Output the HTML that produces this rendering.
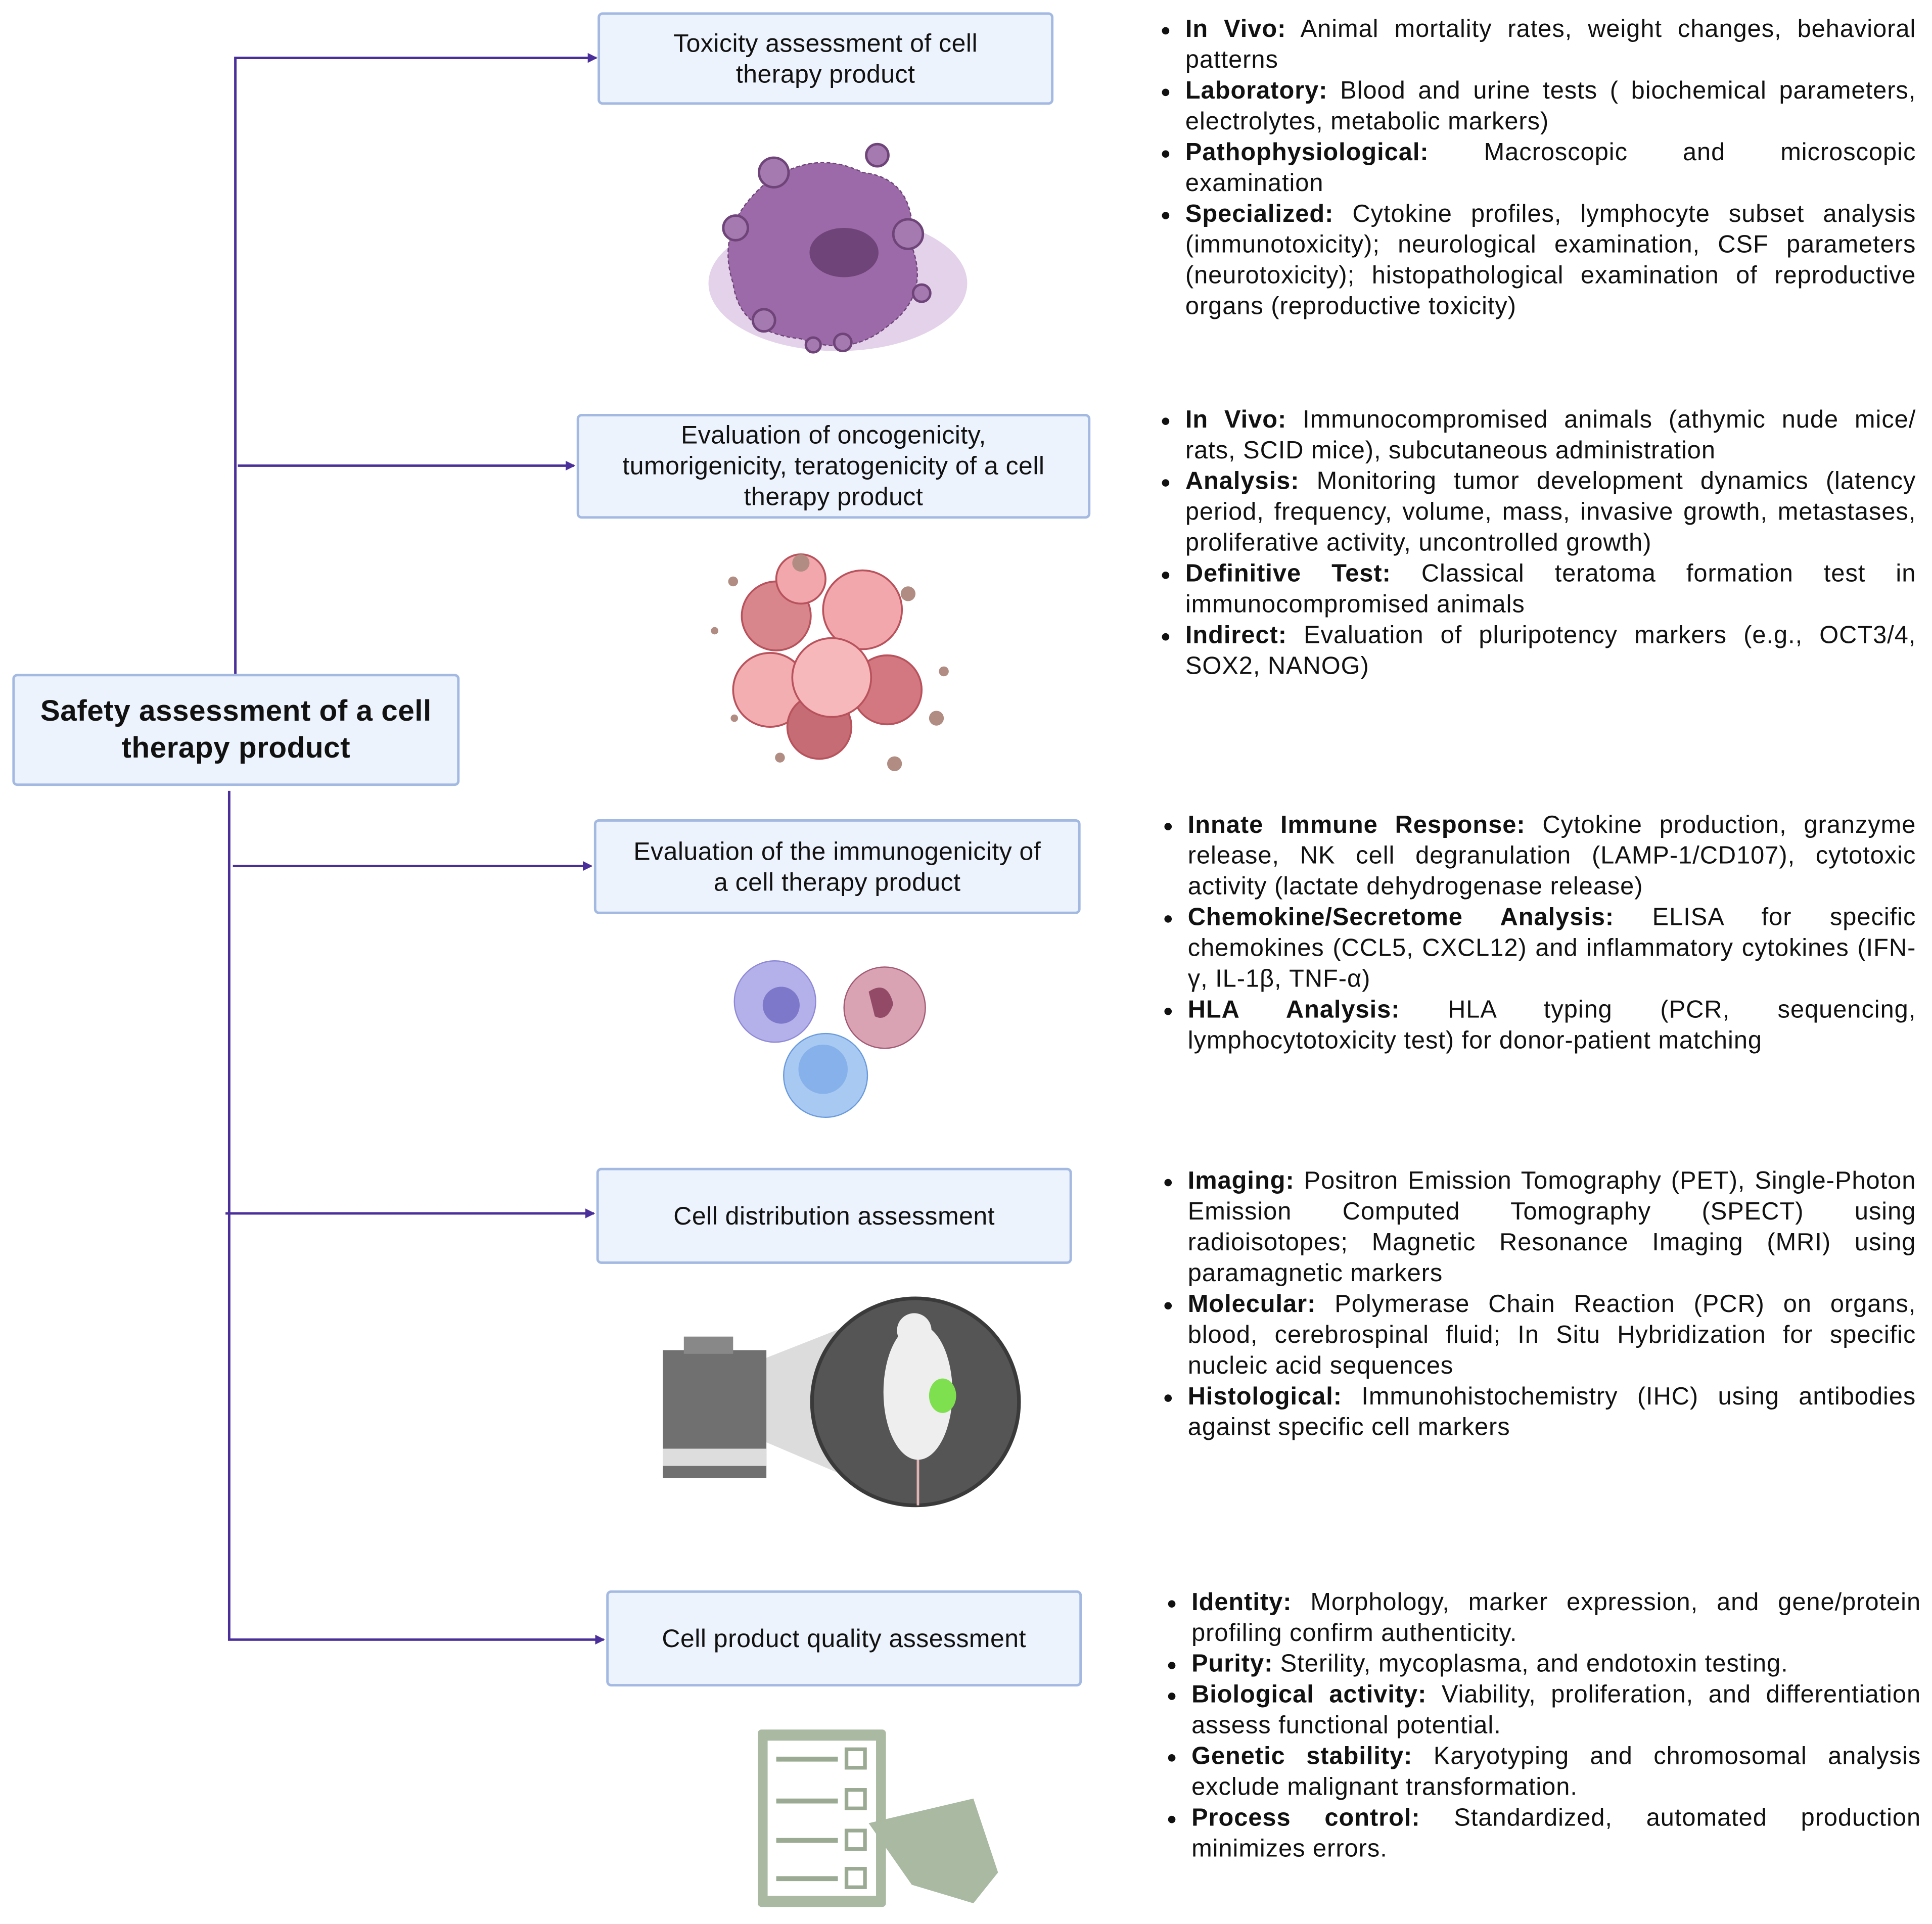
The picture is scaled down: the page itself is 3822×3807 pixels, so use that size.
<!DOCTYPE html>
<html><head><meta charset="utf-8"><style>
html,body{margin:0;padding:0;background:#fff}
body{width:3822px;height:3806px;overflow:hidden;position:relative}
#s{position:absolute;left:0;top:0;width:1568px;height:1562px;transform:scale(2.4375);transform-origin:0 0;font-family:"Liberation Sans",sans-serif;color:#111}
.box{position:absolute;background:#edf3fc;border:2px solid #a3b9e2;border-radius:4px;display:flex;align-items:center;justify-content:center;text-align:center;font-size:20.5px;line-height:25px;box-sizing:border-box;letter-spacing:0.2px}
.t{position:absolute;font-size:20px;letter-spacing:0.4px;line-height:25px;text-align:justify;margin:0;padding:0 0 0 22px;list-style:none}
.t li{position:relative}
.t li::before{content:"";position:absolute;left:-19px;top:10px;width:6px;height:6px;border-radius:50%;background:#111}
svg{position:absolute;left:0;top:0}
</style></head><body><div id="s">
<svg width="1568" height="1562" viewBox="0 0 1568 1562">
<defs><marker id="a" markerWidth="8" markerHeight="8" refX="7" refY="4" orient="auto" markerUnits="userSpaceOnUse"><path d="M0,0 L8,4 L0,8z" fill="#4a2f9a"/></marker></defs>
<g stroke="#4a2f9a" stroke-width="2" fill="none">
<path d="M191,547 V47 H484" marker-end="url(#a)"/>
<path d="M193,378 H466" marker-end="url(#a)"/>
<path d="M186,642 V1331 H490" marker-end="url(#a)"/>
<path d="M189,703 H480" marker-end="url(#a)"/>
<path d="M183,985 H482" marker-end="url(#a)"/>
</g>
<ellipse cx="680" cy="230" rx="105" ry="55" fill="#e3d2ea"/>
<path d="M620,150 Q660,120 700,140 Q745,145 740,200 Q755,240 720,265 Q690,290 650,275 Q600,270 595,230 Q580,185 620,150z" fill="#9c6aa8" stroke="#6e4479" stroke-dasharray="3 2"/>
<ellipse cx="685" cy="205" rx="28" ry="20" fill="#6e4479"/>
<g fill="#a47ab0" stroke="#6e4479" stroke-width="2"><circle cx="628" cy="140" r="12"/><circle cx="712" cy="126" r="9"/><circle cx="737" cy="190" r="12"/><circle cx="597" cy="185" r="10"/><circle cx="620" cy="260" r="9"/><circle cx="748" cy="238" r="7"/><circle cx="684" cy="278" r="7"/><circle cx="660" cy="280" r="6"/></g>
<g stroke="#b8525c" stroke-width="1.5"><circle cx="630" cy="500" r="28" fill="#d8868c"/><circle cx="700" cy="495" r="32" fill="#f1a7ab"/><circle cx="720" cy="560" r="28" fill="#d37880"/><circle cx="625" cy="560" r="30" fill="#f3aeb1"/><circle cx="665" cy="590" r="26" fill="#c66c74"/><circle cx="675" cy="550" r="32" fill="#f6b8ba"/><circle cx="650" cy="470" r="20" fill="#f1a7ab"/></g>
<g fill="#b08c82"><circle cx="650" cy="457" r="7"/><circle cx="737" cy="482" r="6"/><circle cx="760" cy="583" r="6"/><circle cx="726" cy="620" r="6"/><circle cx="595" cy="472" r="4"/><circle cx="580" cy="512" r="3"/><circle cx="766" cy="545" r="4"/><circle cx="633" cy="615" r="4"/><circle cx="596" cy="583" r="3"/></g>
<circle cx="629" cy="813" r="33" fill="#b3b0ea" stroke="#8f8ad6"/><circle cx="634" cy="816" r="15" fill="#7d78c9"/>
<circle cx="718" cy="818" r="33" fill="#d9a3b4" stroke="#a25873"/><path d="M705,805 q15,-10 20,10 q-5,15 -15,10z" fill="#934a66"/>
<circle cx="670" cy="873" r="34" fill="#a8c9f2" stroke="#6b9bdc"/><circle cx="668" cy="868" r="20" fill="#86b1ea"/>
<path d="M620,1103 L742,1055 L742,1222 L620,1170z" fill="#dcdcdc"/>
<rect x="538" y="1096" width="84" height="104" fill="#707070"/><rect x="555" y="1085" width="40" height="14" fill="#888"/><rect x="538" y="1176" width="84" height="14" fill="#ddd"/>
<circle cx="743" cy="1138" r="84" fill="#555" stroke="#3a3a3a" stroke-width="3"/>
<ellipse cx="745" cy="1130" rx="28" ry="55" fill="#eee"/><circle cx="742" cy="1080" r="14" fill="#eee"/><ellipse cx="765" cy="1133" rx="11" ry="14" fill="#7ee04f"/>
<line x1="745" y1="1185" x2="745" y2="1222" stroke="#e0b4b4" stroke-width="2"/>
<rect x="615" y="1404" width="104" height="144" rx="3" fill="#a9b9a2"/><rect x="623" y="1413" width="88" height="126" fill="#fff"/>
<g stroke="#9aaa93" stroke-width="4"><line x1="630" y1="1428" x2="680" y2="1428"/><line x1="630" y1="1462" x2="680" y2="1462"/><line x1="630" y1="1494" x2="680" y2="1494"/><line x1="630" y1="1525" x2="680" y2="1525"/></g>
<g stroke="#9aaa93" stroke-width="3" fill="none"><rect x="687" y="1420" width="15" height="15"/><rect x="687" y="1453" width="15" height="15"/><rect x="687" y="1486" width="15" height="15"/><rect x="687" y="1517" width="15" height="15"/></g>
<path d="M705,1480 L790,1460 L810,1520 L790,1545 L740,1530z" fill="#a9b9a2"/>
</svg>
<div class="box" style="left:10px;top:547px;width:363px;height:91px;font-weight:bold;font-size:24px;line-height:30px">Safety assessment of a cell<br>therapy product</div>
<div class="box" style="left:485px;top:10px;width:370px;height:75px">Toxicity assessment of cell<br>therapy product</div>
<div class="box" style="left:468px;top:336px;width:417px;height:85px">Evaluation of oncogenicity,<br>tumorigenicity, teratogenicity of a cell<br>therapy product</div>
<div class="box" style="left:482px;top:665px;width:395px;height:77px">Evaluation of the immunogenicity of<br>a cell therapy product</div>
<div class="box" style="left:484px;top:948px;width:386px;height:78px">Cell distribution assessment</div>
<div class="box" style="left:492px;top:1291px;width:386px;height:78px">Cell product quality assessment</div>
<ul class="t" style="left:940px;top:12px;width:593px">
<li><b>In Vivo:</b> Animal mortality rates, weight changes, behavioral patterns</li>
<li><b>Laboratory:</b> Blood and urine tests ( biochemical parameters, electrolytes, metabolic markers)</li>
<li><b>Pathophysiological:</b> Macroscopic and microscopic examination</li>
<li><b>Specialized:</b> Cytokine profiles, lymphocyte subset analysis (immunotoxicity); neurological examination, CSF parameters (neurotoxicity); histopathological examination of reproductive organs (reproductive toxicity)</li></ul>
<ul class="t" style="left:940px;top:329px;width:593px">
<li><b>In Vivo:</b> Immunocompromised animals (athymic nude mice/ rats, SCID mice), subcutaneous administration</li>
<li><b>Analysis:</b> Monitoring tumor development dynamics (latency period, frequency, volume, mass, invasive growth, metastases, proliferative activity, uncontrolled growth)</li>
<li><b>Definitive Test:</b> Classical teratoma formation test in immunocompromised animals</li>
<li><b>Indirect:</b> Evaluation of pluripotency markers (e.g., OCT3/4, SOX2, NANOG)</li></ul>
<ul class="t" style="left:942px;top:658px;width:591px">
<li><b>Innate Immune Response:</b> Cytokine production, granzyme release, NK cell degranulation (LAMP-1/CD107), cytotoxic activity (lactate dehydrogenase release)</li>
<li><b>Chemokine/Secretome Analysis:</b> ELISA for specific chemokines (CCL5, CXCL12) and inflammatory cytokines (IFN-γ, IL-1β, TNF-α)</li>
<li><b>HLA Analysis:</b> HLA typing (PCR, sequencing, lymphocytotoxicity test) for donor-patient matching</li></ul>
<ul class="t" style="left:942px;top:947px;width:591px">
<li><b>Imaging:</b> Positron Emission Tomography (PET), Single-Photon Emission Computed Tomography (SPECT) using radioisotopes;&nbsp;Magnetic Resonance Imaging (MRI) using paramagnetic markers</li>
<li><b>Molecular:</b> Polymerase Chain Reaction (PCR) on organs, blood, cerebrospinal fluid; In Situ Hybridization for specific nucleic acid sequences</li>
<li><b>Histological:</b> Immunohistochemistry (IHC) using antibodies against specific cell markers</li></ul>
<ul class="t" style="left:945px;top:1289px;width:592px">
<li><b>Identity:</b> Morphology, marker expression, and gene/protein profiling confirm authenticity.</li>
<li><b>Purity:</b> Sterility, mycoplasma, and endotoxin testing.</li>
<li><b>Biological activity:</b> Viability, proliferation, and differentiation assess functional potential.</li>
<li><b>Genetic stability:</b> Karyotyping and chromosomal analysis exclude malignant transformation.</li>
<li><b>Process control:</b> Standardized, automated production minimizes errors.</li></ul>
</div></body></html>
